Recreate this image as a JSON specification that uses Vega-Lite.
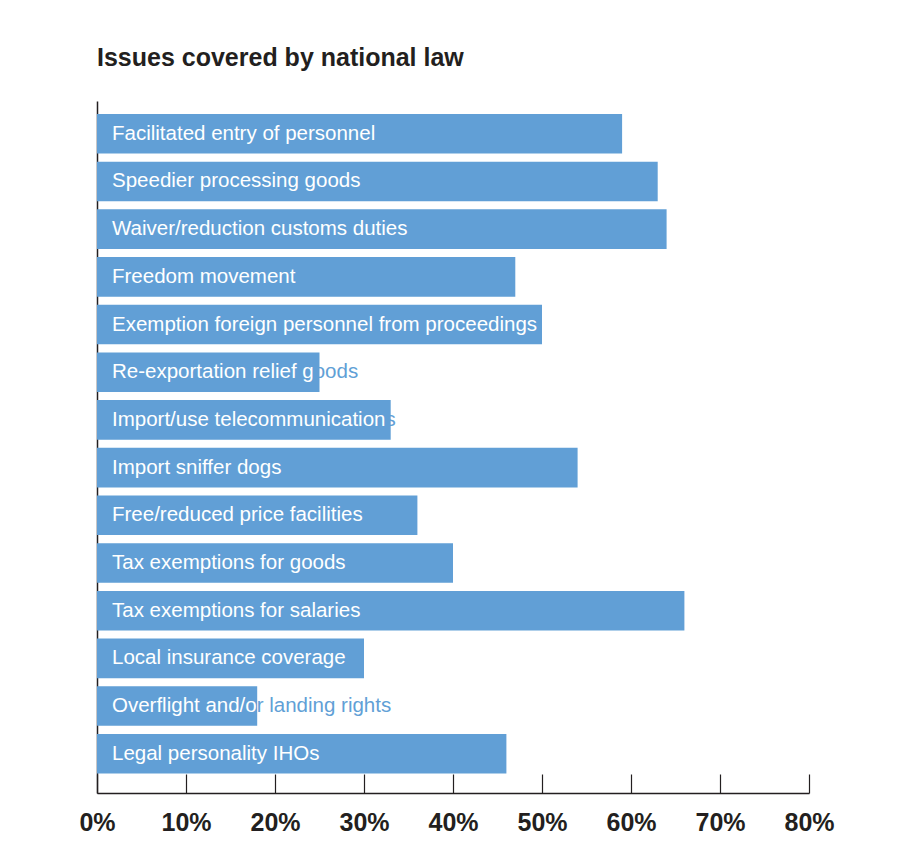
{
  "$schema": "https://vega.github.io/schema/vega-lite/v6.json",
  "width": 712,
  "height": 692,
  "autosize": {"type": "none"},
  "padding": {"left": 97, "top": 101, "right": 94, "bottom": 59},
  "background": "white",
  "title": {
    "text": "Issues covered by national law",
    "anchor": "start",
    "frame": "group",
    "font": "Liberation Sans",
    "fontSize": 25,
    "fontWeight": "bold",
    "color": "#231f20",
    "baseline": "alphabetic",
    "offset": 10
  },
  "data": {
    "values": [
      {"issue": "Facilitated entry of personnel", "share": 0.59},
      {"issue": "Speedier processing goods", "share": 0.63},
      {"issue": "Waiver/reduction customs duties", "share": 0.64},
      {"issue": "Freedom movement", "share": 0.47},
      {"issue": "Exemption foreign personnel from proceedings", "share": 0.50},
      {"issue": "Re-exportation relief goods", "share": 0.25},
      {"issue": "Import/use telecommunications", "share": 0.33},
      {"issue": "Import sniffer dogs", "share": 0.54},
      {"issue": "Free/reduced price facilities", "share": 0.36},
      {"issue": "Tax exemptions for goods", "share": 0.40},
      {"issue": "Tax exemptions for salaries", "share": 0.66},
      {"issue": "Local insurance coverage", "share": 0.30},
      {"issue": "Overflight and/or landing rights", "share": 0.18},
      {"issue": "Legal personality IHOs", "share": 0.46}
    ]
  },
  "encoding": {
    "y": {
      "field": "issue",
      "type": "nominal",
      "sort": null,
      "scale": {"paddingInner": 0.17, "paddingOuter": 0.34, "align": 0.4},
      "axis": {
        "title": null,
        "labels": false,
        "ticks": false,
        "domain": true,
        "domainColor": "#231f20",
        "domainWidth": 1.5
      }
    }
  },
  "layer": [
    {
      "mark": {"type": "text", "align": "left", "baseline": "middle", "dx": 15, "font": "Liberation Sans", "fontSize": 20.5, "color": "#619fd6"},
      "encoding": {
        "x": {"datum": 0, "type": "quantitative"},
        "text": {"field": "issue"}
      }
    },
    {
      "mark": {"type": "bar", "color": "#619fd6"},
      "encoding": {
        "x": {
          "field": "share",
          "type": "quantitative",
          "scale": {"domain": [0, 0.8], "nice": false},
          "axis": {
            "title": null,
            "values": [0, 0.1, 0.2, 0.3, 0.4, 0.5, 0.6, 0.7, 0.8],
            "format": ".0%",
            "grid": false,
            "domainColor": "#231f20",
            "domainWidth": 1.5,
            "tickColor": "#231f20",
            "tickWidth": 1.2,
            "tickSize": -19,
            "labelPadding": 48,
            "labelFlush": false,
            "labelFont": "Liberation Sans",
            "labelFontSize": 25,
            "labelFontWeight": "bold",
            "labelColor": "#231f20",
            "labelBaseline": "middle"
          }
        }
      }
    },
    {
      "mark": {
        "type": "text",
        "align": "left",
        "baseline": "middle",
        "dx": 15,
        "font": "Liberation Sans",
        "fontSize": 20.5,
        "color": "white",
        "ellipsis": "\u200b",
        "limit": {"expr": "scale('x', datum.share) - 15"}
      },
      "encoding": {
        "x": {"datum": 0, "type": "quantitative"},
        "text": {"field": "issue"}
      }
    }
  ],
  "config": {"view": {"stroke": null}}
}
